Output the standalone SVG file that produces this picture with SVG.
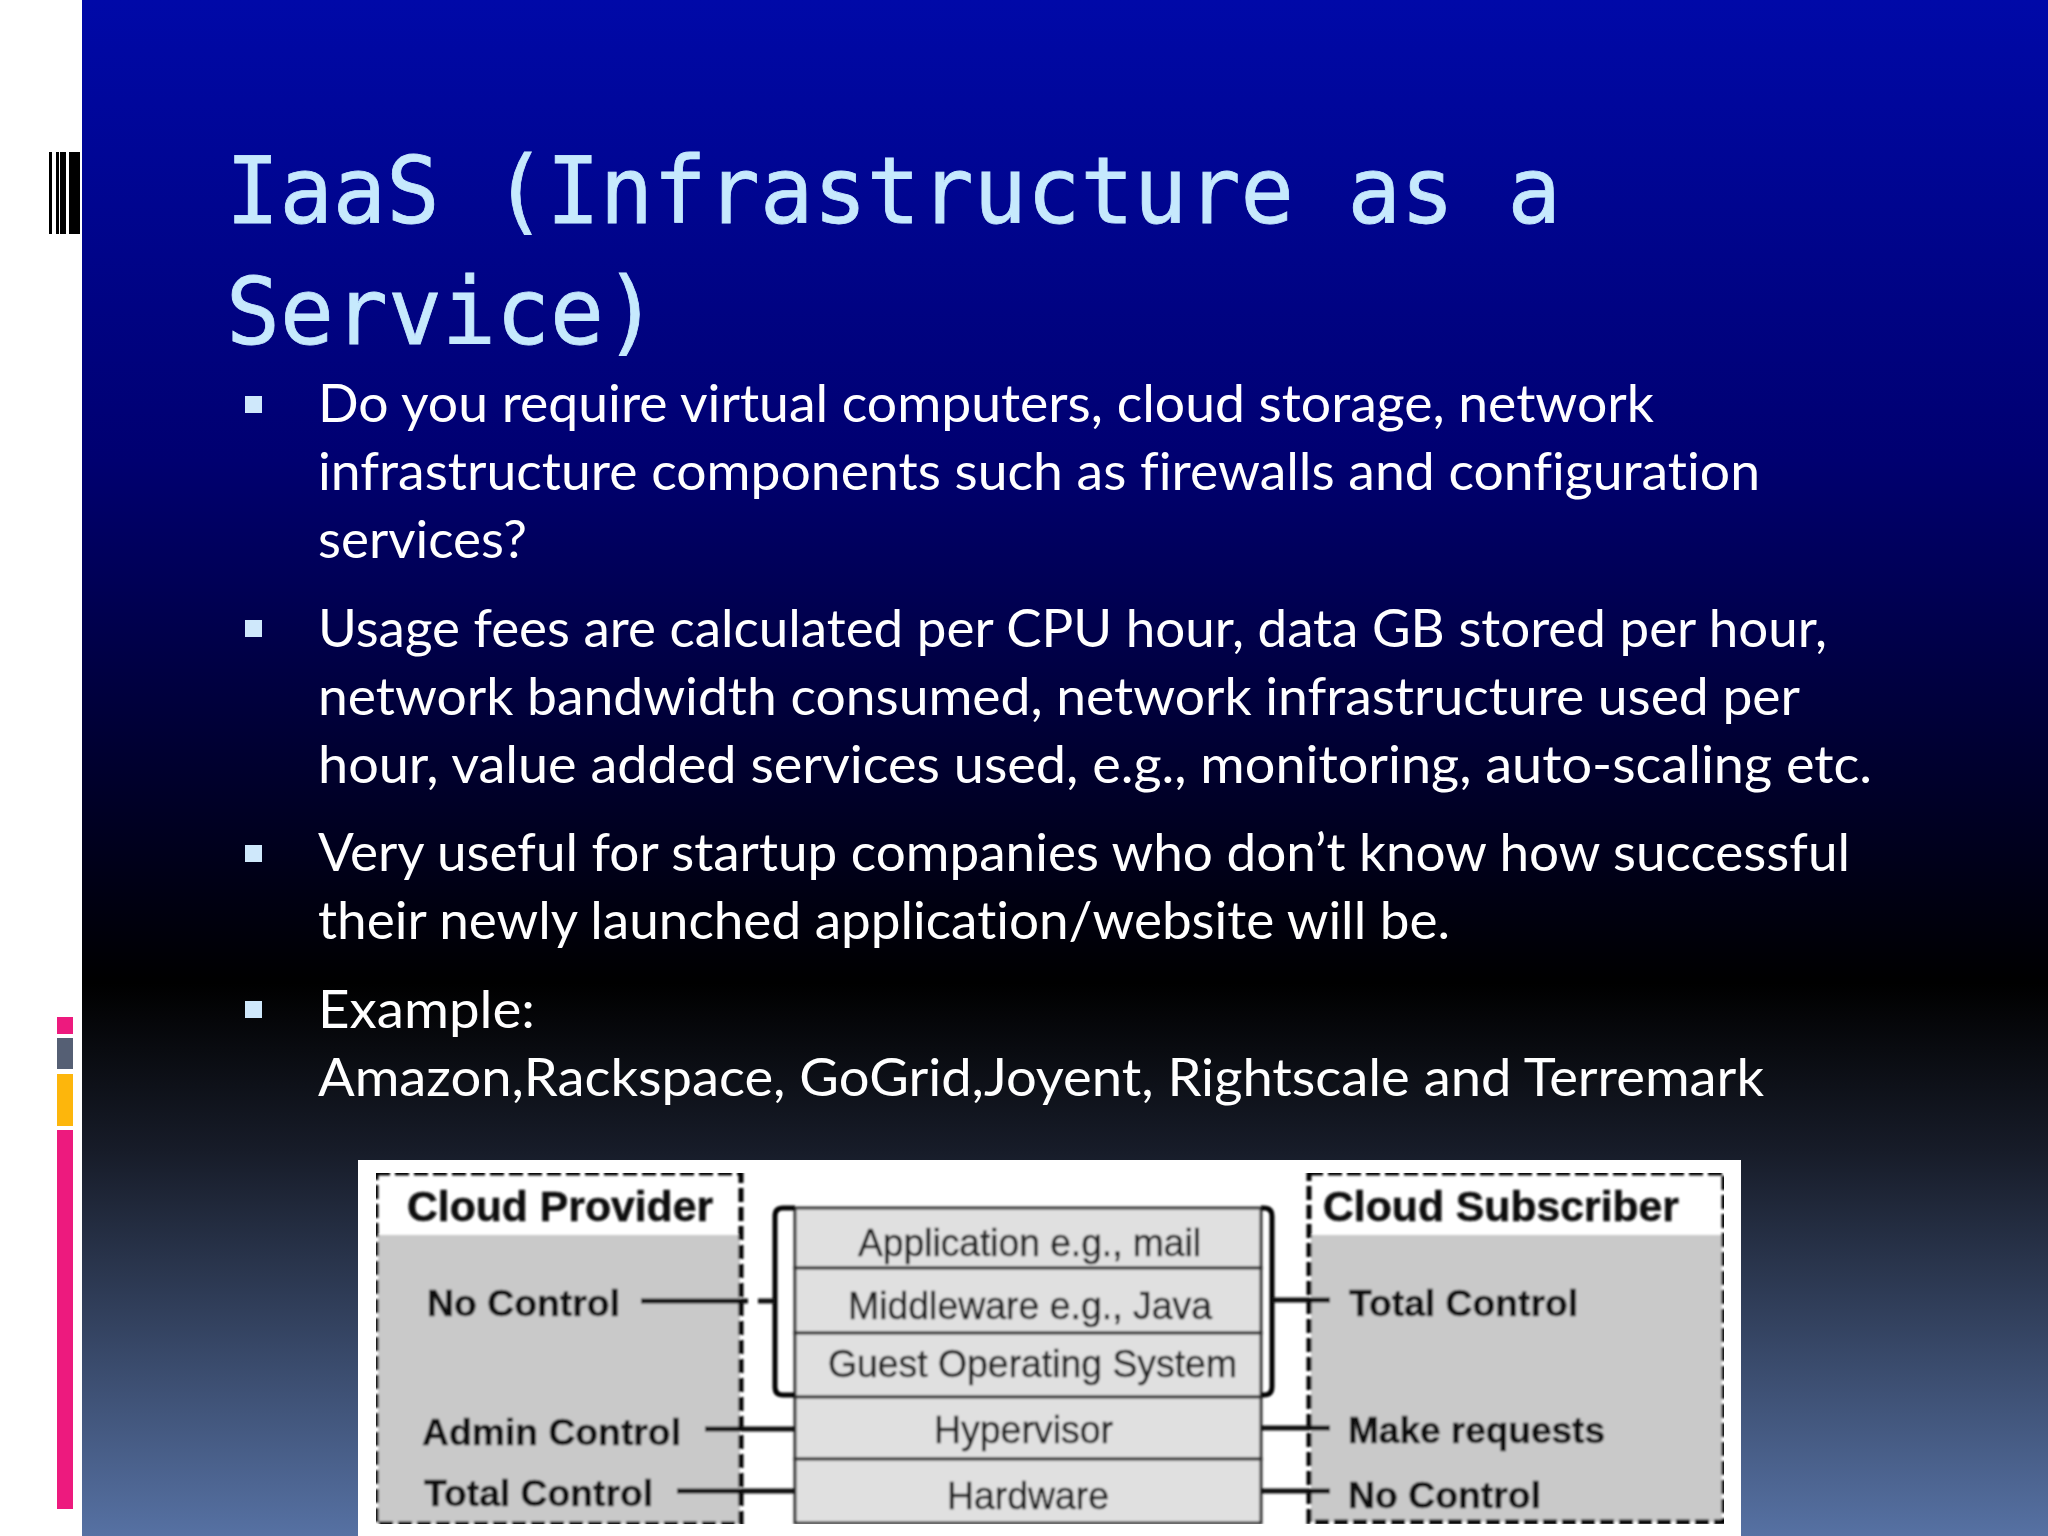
<svg xmlns="http://www.w3.org/2000/svg" width="2048" height="1536" viewBox="0 0 2048 1536">
<defs>
<linearGradient id="bg" x1="0" y1="0" x2="0" y2="1">
<stop offset="0" stop-color="#0009a8"/>
<stop offset="0.3" stop-color="#000070"/>
<stop offset="0.64" stop-color="#000000"/>
<stop offset="0.75" stop-color="#171c29"/>
<stop offset="1" stop-color="#5671a3"/>
</linearGradient>
<filter id="soft" x="0" y="0" width="1" height="1"><feGaussianBlur stdDeviation="1"/></filter>
</defs>
<style>
.title{font-family:"DejaVu Sans Mono",monospace;font-size:92px;fill:#c6e9fd;stroke:#c6e9fd;stroke-width:.8}
.body{font-family:"Lato","Open Sans",sans-serif;font-size:52px;fill:#fff;font-variant-ligatures:none}
.bullet{fill:#cfe8fb}
.head{font-family:"Liberation Sans",Arial,sans-serif;font-size:43px;font-weight:bold;fill:#111;stroke:#111;stroke-width:.5}
.role{font-family:"Liberation Sans",Arial,sans-serif;font-size:36px;font-weight:bold;fill:#111;stroke:#111;stroke-width:.5}
.layer{font-family:"Liberation Sans",Arial,sans-serif;font-size:38px;fill:#222;stroke:#222;stroke-width:.5}
.dash{fill:none;stroke:#000;stroke-width:5;stroke-dasharray:14 5}
.cell{fill:#e0e0e0;stroke:#333;stroke-width:3}
.brk{fill:none;stroke:#000;stroke-width:5}
.con{fill:none;stroke:#111;stroke-width:5}
</style>
<rect width="2048" height="1536" fill="#fff"/>
<rect x="82" width="1966" height="1536" fill="url(#bg)"/>
<g id="barcode" fill="#000">
<rect x="49" y="152" width="3" height="82"/><rect x="56" y="152" width="3" height="82"/><rect x="60" y="152" width="6" height="82"/><rect x="69" y="152" width="11" height="82"/>
</g>
<g id="strips">
<rect x="57" y="1017" width="16" height="17" fill="#ed1a7e"/>
<rect x="57" y="1038" width="16" height="31" fill="#555f74"/>
<rect x="57" y="1074" width="16" height="52" fill="#fdb60c"/>
<rect x="57" y="1130" width="16" height="379" fill="#ed1a7e"/>
</g>
<g id="title">
<text class="title" x="226" y="223" textLength="1335" lengthAdjust="spacingAndGlyphs">IaaS (Infrastructure as a</text>
<text class="title" x="226" y="344" textLength="432" lengthAdjust="spacingAndGlyphs">Service)</text>
</g>
<g id="bullets" class="bullet">
<rect x="245" y="396" width="17" height="17"/>
<rect x="245" y="620" width="17" height="17"/>
<rect x="245" y="845" width="17" height="17"/>
<rect x="245" y="1001" width="17" height="17"/>
</g>
<g id="body">
<text class="body" x="318" y="422" textLength="1336" lengthAdjust="spacingAndGlyphs">Do you require virtual computers, cloud storage, network</text>
<text class="body" x="318" y="490" textLength="1442" lengthAdjust="spacingAndGlyphs">infrastructure components such as firewalls and configuration</text>
<text class="body" x="318" y="558" textLength="209" lengthAdjust="spacingAndGlyphs">services?</text>
<text class="body" x="318" y="647" textLength="1509" lengthAdjust="spacingAndGlyphs">Usage fees are calculated per CPU hour, data GB stored per hour,</text>
<text class="body" x="318" y="715" textLength="1482" lengthAdjust="spacingAndGlyphs">network bandwidth consumed, network infrastructure used per</text>
<text class="body" x="318" y="783" textLength="1554" lengthAdjust="spacingAndGlyphs">hour, value added services used, e.g., monitoring, auto-scaling etc.</text>
<text class="body" x="318" y="871" textLength="1532" lengthAdjust="spacingAndGlyphs">Very useful for startup companies who don’t know how successful</text>
<text class="body" x="318" y="939" textLength="1132" lengthAdjust="spacingAndGlyphs">their newly launched application/website will be.</text>
<text class="body" x="318" y="1028" textLength="217" lengthAdjust="spacingAndGlyphs">Example:</text>
<text class="body" x="318" y="1096" textLength="1446" lengthAdjust="spacingAndGlyphs">Amazon,Rackspace, GoGrid,Joyent, Rightscale and Terremark</text>
</g>
<rect x="358" y="1160" width="1383" height="376" fill="#fff"/>
<g filter="url(#soft)">
<g id="provider">
<rect x="378" y="1235" width="362" height="289" fill="#c9c9c9"/>
<rect class="dash" x="376" y="1173" width="365" height="351"/>
<text class="head" x="407" y="1221" textLength="306" lengthAdjust="spacingAndGlyphs">Cloud Provider</text>
<text class="role" x="427" y="1316" textLength="193" lengthAdjust="spacingAndGlyphs">No Control</text>
<text class="role" x="422" y="1445" textLength="259" lengthAdjust="spacingAndGlyphs">Admin Control</text>
<text class="role" x="424" y="1506" textLength="229" lengthAdjust="spacingAndGlyphs">Total Control</text>
</g>
<g id="subscriber">
<rect x="1311" y="1235" width="411" height="287" fill="#c9c9c9"/>
<rect class="dash" x="1309" y="1173" width="415" height="349"/>
<text class="head" x="1323" y="1221" textLength="356" lengthAdjust="spacingAndGlyphs">Cloud Subscriber</text>
<text class="role" x="1349" y="1316" textLength="229" lengthAdjust="spacingAndGlyphs">Total Control</text>
<text class="role" x="1348" y="1443" textLength="257" lengthAdjust="spacingAndGlyphs">Make requests</text>
<text class="role" x="1348" y="1508" textLength="193" lengthAdjust="spacingAndGlyphs">No Control</text>
</g>
<g id="stack">
<g id="layer-application"><rect class="cell" x="795" y="1208" width="466" height="60"/><text class="layer" x="858" y="1256" textLength="343" lengthAdjust="spacingAndGlyphs">Application e.g., mail</text></g>
<g id="layer-middleware"><rect class="cell" x="795" y="1268" width="466" height="65"/><text class="layer" x="848" y="1319" textLength="364" lengthAdjust="spacingAndGlyphs">Middleware e.g., Java</text></g>
<g id="layer-guest"><rect class="cell" x="795" y="1333" width="466" height="64"/><text class="layer" x="828" y="1377" textLength="409" lengthAdjust="spacingAndGlyphs">Guest Operating System</text></g>
<g id="layer-hypervisor"><rect class="cell" x="795" y="1397" width="466" height="62"/><text class="layer" x="934" y="1443" textLength="179" lengthAdjust="spacingAndGlyphs">Hypervisor</text></g>
<g id="layer-hardware"><rect class="cell" x="795" y="1459" width="466" height="64"/><text class="layer" x="947" y="1509" textLength="162" lengthAdjust="spacingAndGlyphs">Hardware</text></g>
</g>
<g id="connectors">
<path class="brk" d="M795 1208H783Q775 1208 775 1216V1387Q775 1395 783 1395H795"/>
<path class="brk" d="M1261 1208H1264Q1272 1208 1272 1216V1387Q1272 1395 1264 1395H1261"/>
<path class="con" d="M641 1301H748M758 1301H775"/>
<path class="con" d="M705 1429H795"/>
<path class="con" d="M677 1491H795"/>
<path class="con" d="M1272 1300H1330"/>
<path class="con" d="M1261 1428H1330"/>
<path class="con" d="M1261 1491H1330"/>
</g>
</g>
</svg>
